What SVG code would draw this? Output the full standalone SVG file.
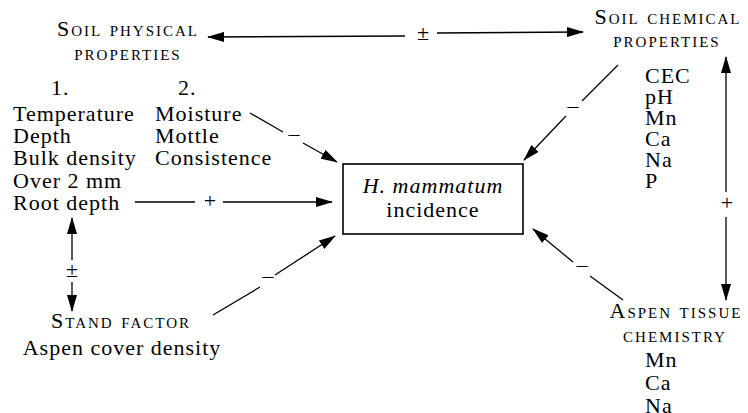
<svg xmlns="http://www.w3.org/2000/svg" width="748" height="413" viewBox="0 0 748 413">
<defs>
<marker id="ah" markerUnits="userSpaceOnUse" markerWidth="17" markerHeight="10" refX="16" refY="5" orient="auto">
<path d="M0,0 L17,5 L0,10 Z" fill="#000"/>
</marker>
</defs>
<style>
text{font-family:"Liberation Serif","Times New Roman",serif;font-size:22px;fill:#000;letter-spacing:1px}
.sc{font-variant:small-caps;letter-spacing:2px}
.it{font-style:italic}
.mid{text-anchor:middle}
.sign{letter-spacing:0}
line{stroke:#000;stroke-width:1.3;fill:none}
.arr{marker-end:url(#ah)}
.box{fill:none;stroke:#000;stroke-width:1.6}
</style>
<rect width="748" height="413" fill="#fff"/>

<g id="soil-physical">
<text class="sc mid" x="128" y="36">Soil physical</text>
<text class="sc mid" x="128" y="60">properties</text>
<text x="51" y="95">1.</text>
<text x="178" y="95">2.</text>
<text x="13" y="121">Temperature</text>
<text x="13" y="143">Depth</text>
<text x="13" y="165">Bulk density</text>
<text x="13" y="187.5">Over 2 mm</text>
<text x="13" y="210">Root depth</text>
<text x="155" y="121">Moisture</text>
<text x="155" y="143">Mottle</text>
<text x="155" y="165">Consistence</text>
</g>

<g id="soil-chemical">
<text class="sc mid" x="668" y="24">Soil chemical</text>
<text class="sc mid" x="667" y="47">properties</text>
<text x="645" y="83">CEC</text>
<text x="645" y="104">pH</text>
<text x="645" y="125">Mn</text>
<text x="645" y="146">Ca</text>
<text x="645" y="167">Na</text>
<text x="645" y="188">P</text>
</g>

<g id="incidence">
<rect class="box" x="343" y="164" width="180" height="70"/>
<text class="mid" x="433" y="193"><tspan class="it">H. mammatum</tspan></text>
<text class="mid" x="433" y="217">incidence</text>
</g>

<g id="stand-factor">
<text class="sc mid" x="121" y="328">Stand factor</text>
<text class="mid" x="122" y="355">Aspen cover density</text>
</g>

<g id="aspen-tissue">
<text class="sc mid" x="676" y="318">Aspen tissue</text>
<text class="sc mid" x="675" y="342">chemistry</text>
<text x="645" y="367">Mn</text>
<text x="645" y="390">Ca</text>
<text x="645" y="413">Na</text>
</g>

<g id="connectors">
<line class="arr" x1="405" y1="36" x2="208" y2="37"/>
<line class="arr" x1="437" y1="33" x2="583" y2="32"/>
<text class="mid sign" x="423" y="40">±</text>

<line x1="135" y1="202" x2="195" y2="202"/>
<line class="arr" x1="223" y1="202" x2="332" y2="202"/>
<text class="mid sign" x="210" y="207.5">+</text>

<line x1="250" y1="113" x2="283" y2="132"/>
<line class="arr" x1="303" y1="143" x2="337" y2="162"/>
<text class="mid sign" x="294" y="141">–</text>

<line x1="618" y1="65" x2="582" y2="101"/>
<line class="arr" x1="566" y1="116" x2="524" y2="160"/>
<text class="mid sign" x="573" y="113">–</text>

<line x1="213" y1="315" x2="260" y2="287"/>
<line class="arr" x1="275" y1="275" x2="335" y2="236"/>
<text class="mid sign" x="268" y="283">–</text>

<line x1="623" y1="300" x2="590" y2="276"/>
<line class="arr" x1="573" y1="262" x2="533" y2="229"/>
<text class="mid sign" x="582" y="272">–</text>

<line class="arr" x1="72" y1="260" x2="72" y2="218"/>
<line class="arr" x1="72" y1="282" x2="72" y2="311"/>
<text class="mid sign" x="72" y="277">±</text>

<line class="arr" x1="726" y1="192" x2="726" y2="57"/>
<line class="arr" x1="726" y1="217" x2="726" y2="300"/>
<text class="mid sign" x="727" y="210">+</text>
</g>
</svg>
